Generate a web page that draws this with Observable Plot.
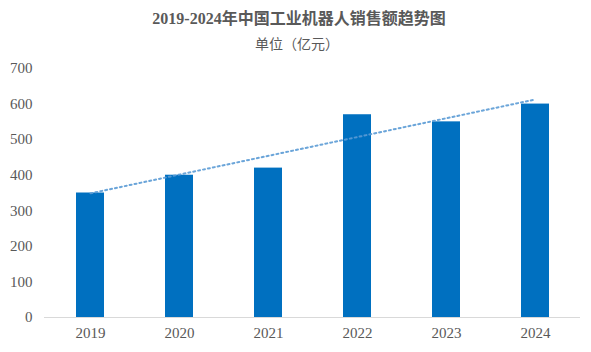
<!DOCTYPE html>
<html>
<head>
<meta charset="utf-8">
<script src="https://cdn.jsdelivr.net/npm/d3@7"></script>
<script src="https://cdn.jsdelivr.net/npm/@observablehq/plot@0.6"></script>
<style>
  html, body { margin: 0; padding: 0; background: #fff; }
  #wrap { width: 591px; height: 352px; position: relative; overflow: hidden; }
  #title { position: absolute; left: 0; width: 598px; top: 9px; text-align: center;
    font-family: "Liberation Serif", "Noto Sans CJK SC", serif; font-weight: bold; font-size: 16px; color: #595959; line-height: 20px; }
  #subtitle { position: absolute; left: 0; width: 594px; top: 33px; text-align: center;
    font-family: "Noto Sans CJK SC", sans-serif; font-size: 14px; color: #595959; line-height: 20px; }
  #chart { position: absolute; left: 0; top: 55px; }
</style>
</head>
<body>
<div id="wrap">
  <div id="title">2019-2024年中国工业机器人销售额趋势图</div>
  <div id="subtitle">单位（亿元）</div>
  <div id="chart"></div>
</div>
<script>
const years = ["2019", "2020", "2021", "2022", "2023", "2024"];
const sales = [350, 400, 420, 570, 550, 600];
const trendYears = ["2019", "2024"];
const trendValues = [349, 613];
const yTicks = [0, 100, 200, 300, 400, 500, 600, 700];

const bars = years.map((y, i) => ({year: y, value: sales[i]}));
const trend = trendYears.map((y, i) => ({year: y, value: trendValues[i]}));

const chart = Plot.plot({
  width: 591,
  height: 297,
  marginTop: 13,
  marginBottom: 35,
  marginLeft: 44,
  marginRight: 11,
  style: {fontFamily: "'Liberation Serif', serif", fontSize: "15px", color: "#595959", background: "#fff"},
  x: {domain: years, paddingInner: 0.687, paddingOuter: 0.345, label: null, tickSize: 0, tickPadding: 10},
  y: {domain: [0, 700], ticks: yTicks, label: null, tickSize: 0, tickPadding: 12},
  marks: [
    Plot.barY(bars, {x: "year", y: "value", fill: "#0070C0"}),
    Plot.ruleY([0], {stroke: "#d9d9d9", strokeWidth: 1}),
    Plot.line(trend, {x: "year", y: "value", stroke: "#5B9BD5", strokeWidth: 2, strokeDasharray: "2,3", strokeOpacity: 0.9})
  ]
});
document.getElementById("chart").appendChild(chart);
</script>
</body>
</html>
